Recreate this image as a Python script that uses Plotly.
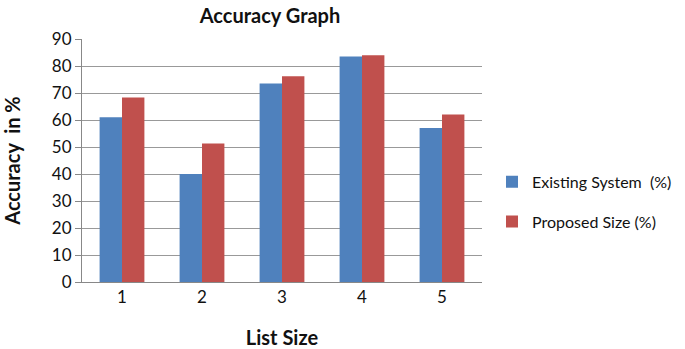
import plotly.graph_objects as go

categories = ["1", "2", "3", "4", "5"]
existing = [61, 40, 73.5, 83.5, 57]
proposed = [68.3, 51.3, 76.2, 84, 62]
y_ticks = [0, 10, 20, 30, 40, 50, 60, 70, 80, 90]

FONT = "Lato, Noto Sans, sans-serif"

fig = go.Figure()
fig.add_trace(go.Bar(x=categories, y=existing, name="Existing System  (%)",
                     marker=dict(color="#4F81BD", line=dict(width=0)), legendgroup="a"))
fig.add_trace(go.Bar(x=categories, y=proposed, name="Proposed Size (%)",
                     marker=dict(color="#C0504D", line=dict(width=0)), legendgroup="b"))

fig.update_layout(
    width=685, height=349,
    margin=dict(l=82, r=203, t=39, b=67, autoexpand=False),
    paper_bgcolor="white", plot_bgcolor="white",
    barmode="group", bargap=0.44, bargroupgap=0,
    font=dict(family=FONT, size=17, color="#111"),
    title=dict(text="<b>Accuracy Graph</b>", x=270/685, xanchor="center",
               y=1 - 16/349, yanchor="middle", font=dict(size=20, family=FONT)),
    legend=dict(x=1.025, y=0.33, xanchor="left", yanchor="middle",
                font=dict(size=16, family=FONT), tracegroupgap=16,
                itemwidth=30),
    xaxis=dict(title=dict(text="<b>List Size</b>", font=dict(size=20), standoff=24),
               showgrid=False, showline=True, linecolor="#888", linewidth=1,
               ticks="", tickfont=dict(size=17)),
    yaxis=dict(title=dict(text="<b>Accuracy  in %</b>", font=dict(size=20), standoff=28),
               range=[0, 90], tickvals=y_ticks, showgrid=True, gridcolor="#999",
               gridwidth=1, showline=True, linecolor="#888", linewidth=1,
               ticks="outside", ticklen=6, tickcolor="#888", tickfont=dict(size=17),
               zeroline=False),
)

fig.write_html("out.html", post_script="document.body.style.margin='0';",
               config={"displayModeBar": False})
